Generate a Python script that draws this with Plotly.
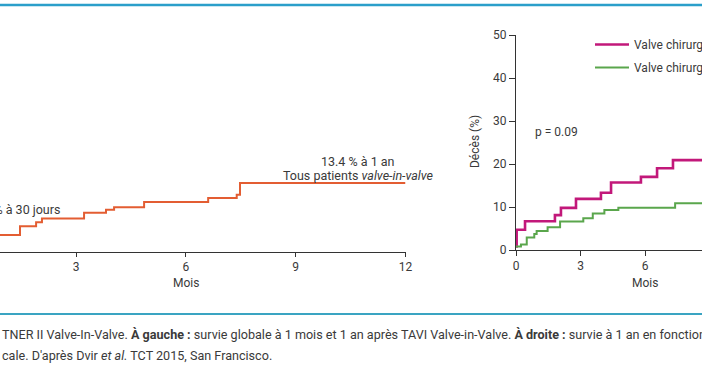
import plotly.graph_objects as go

W, H = 702, 370

# ---- data ----
left_months = [0, 1.47, 1.91, 2.07, 3.22, 3.82, 4.04, 4.86, 6.61, 7.39, 7.48, 12]
left_deaths = [3.3, 5.0, 5.8, 6.5, 7.6, 8.2, 8.7, 9.7, 10.5, 11.1, 13.4, 13.4]

small_months = [0, 0.03, 0.42, 1.81, 2.09, 2.79, 3.95, 4.42, 5.81, 6.56, 7.30, 12]
small_deaths = [0.8, 4.7, 6.7, 8.1, 9.8, 11.9, 13.3, 15.7, 17.0, 19.0, 20.9, 20.9]

large_months = [0, 0.23, 0.50, 0.85, 0.96, 1.47, 2.05, 3.13, 3.57, 4.11, 4.76, 7.40, 12]
large_deaths = [0.8, 1.3, 2.9, 3.7, 4.4, 5.3, 6.6, 7.4, 8.5, 9.3, 9.8, 10.9, 10.9]

x_ticks = [0, 3, 6, 9, 12]
y_ticks = [0, 10, 20, 30, 40, 50]
series_names = ["Valve chirurgicale ≤ 21 mm", "Valve chirurgicale > 21 mm"]

FONT = "Roboto, 'Liberation Sans', Arial, sans-serif"
TXT = "#3a3a3a"


def px(x):
    return x / W


def py(y):
    return 1 - y / H


fig = go.Figure()
fig.add_trace(go.Scatter(x=left_months, y=left_deaths, mode="lines", line_shape="hv",
                         line=dict(color="#e35d32", width=2), xaxis="x", yaxis="y",
                         showlegend=False, hoverinfo="skip"))
fig.add_trace(go.Scatter(x=small_months, y=small_deaths, mode="lines", line_shape="hv",
                         name=series_names[0], legendgroup="a",
                         line=dict(color="#c2187a", width=2.6), xaxis="x2", yaxis="y2"))
fig.add_trace(go.Scatter(x=large_months, y=large_deaths, mode="lines", line_shape="hv",
                         name=series_names[1], legendgroup="b",
                         line=dict(color="#5aa64c", width=2), xaxis="x2", yaxis="y2"))

axis_common = dict(showgrid=False, zeroline=False, showline=True, linecolor="#333",
                   linewidth=1, ticks="outside", tickcolor="#333", tickwidth=1,
                   tickfont=dict(family=FONT, size=12, color=TXT))

fig.update_layout(
    width=W, height=H,
    margin=dict(l=0, r=0, t=0, b=0, autoexpand=False),
    paper_bgcolor="white", plot_bgcolor="rgba(0,0,0,0)",
    font=dict(family=FONT, size=12, color=TXT),
    xaxis=dict(domain=[0, px(405.5)], range=[0.924, 12], tickvals=x_ticks, ticklen=4,
               anchor="y", **axis_common),
    yaxis=dict(domain=[py(252), py(46)], range=[0, 40], visible=False, anchor="x"),
    xaxis2=dict(domain=[px(516), 1], range=[0, 8.65], tickvals=x_ticks, ticklen=5,
                anchor="y2", **axis_common),
    yaxis2=dict(domain=[py(250), py(35)], range=[0, 50], tickvals=y_ticks, ticklen=6,
                anchor="x2", **axis_common),
    showlegend=True,
    legend=dict(x=px(590), y=py(30), xanchor="left", yanchor="top",
                bgcolor="rgba(0,0,0,0)", itemwidth=34, tracegroupgap=4,
                font=dict(family=FONT, size=12, color=TXT), traceorder="grouped"),
)

shapes = [
    dict(type="line", xref="paper", yref="paper", x0=0, x1=1, y0=py(5), y1=py(5),
         line=dict(color="#2b9fca", width=2.5)),
    dict(type="line", xref="paper", yref="paper", x0=0, x1=1, y0=py(314), y1=py(314),
         line=dict(color="#3aa4c2", width=2)),
]
fig.update_layout(shapes=shapes)

ann = [
    dict(text="Mois", x=6, xref="x", y=py(283), yref="paper", showarrow=False,
         xanchor="center", yanchor="middle"),
    dict(text="Mois", x=6, xref="x2", y=py(283), yref="paper", showarrow=False,
         xanchor="center", yanchor="middle"),
    dict(text="Décès (%)", x=px(475), xref="paper", y=py(142), yref="paper",
         showarrow=False, textangle=-90, xanchor="center", yanchor="middle"),
    dict(text="p = 0.09", x=px(533), xref="paper", y=py(132), yref="paper",
         showarrow=False, xanchor="left", yanchor="middle"),
    dict(text="13.4 % à 1 an", x=px(358), xref="paper", y=py(161), yref="paper",
         showarrow=False, xanchor="center", yanchor="middle", font=dict(size=12.5)),
    dict(text="Tous patients <i>valve-in-valve</i>", x=px(358), xref="paper", y=py(175.5),
         yref="paper", showarrow=False, xanchor="center", yanchor="middle",
         font=dict(size=12.5)),
    dict(text="2.7 % à 30 jours", x=px(62), xref="paper", y=py(209), yref="paper",
         showarrow=False, xanchor="right", yanchor="middle", font=dict(size=12.5)),
    dict(text="TNER II Valve-In-Valve. <b>À gauche :</b> survie globale à 1 mois et 1 an après "
              "TAVI Valve-in-Valve. <b>À droite :</b> survie à 1 an en fonction de la taille",
         x=0, xref="paper", y=py(334), yref="paper", showarrow=False,
         xanchor="left", yanchor="middle", font=dict(size=12.6)),
    dict(text="cale. D'après Dvir <i>et al.</i> TCT 2015, San Francisco.",
         x=0, xref="paper", y=py(355), yref="paper", showarrow=False,
         xanchor="left", yanchor="middle", font=dict(size=12.6)),
]
fig.update_layout(annotations=ann)

fig.write_html("out.html", config={"displayModeBar": False},
               post_script="document.body.style.margin='0px';")
